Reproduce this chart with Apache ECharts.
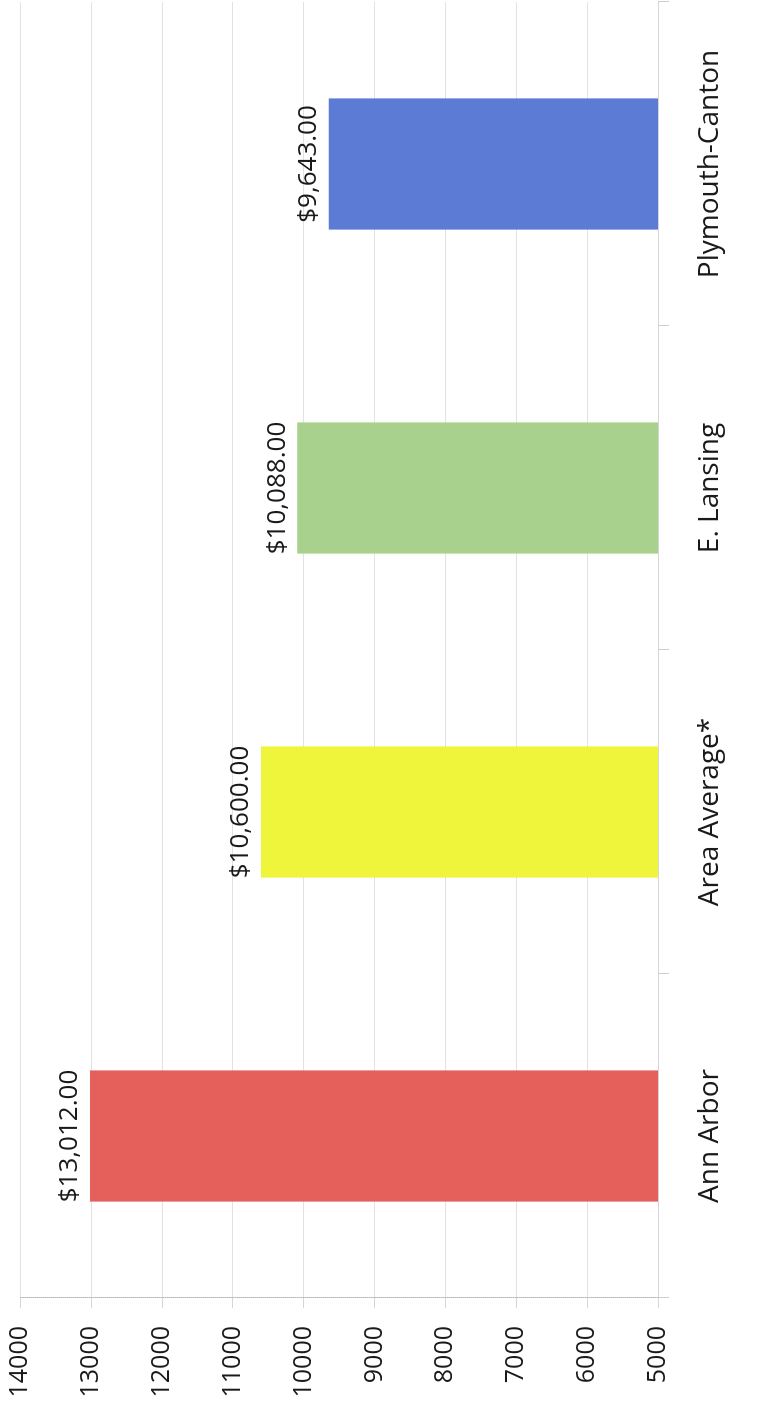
<!DOCTYPE html>
<html>
<head>
<meta charset="utf-8">
<script src="https://cdn.jsdelivr.net/npm/echarts@6/dist/echarts.min.js"></script>
<style>
  html, body { margin:0; padding:0; background:#fff; }
  #wrap { position:absolute; left:0; top:0; width:774px; height:1410px; overflow:hidden; background:#fff; }
  #chart { position:absolute; left:0; top:0; width:1410px; height:774px;
           transform-origin:0 0; transform:translate(0px,1410px) rotate(-90deg); }
</style>
</head>
<body>
<div id="wrap"><div id="chart"></div></div>
<script>
const categories = ['Ann Arbor', 'Area Average*', 'E. Lansing', 'Plymouth-Canton'];
const tuitionValues = [13012, 10600, 10088, 9643];
const barColors = ['#e5605b', '#eef53a', '#a9d18e', '#5b7bd5'];
const axisMin = 5000;
const axisMax = 14000;
const axisStep = 1000;

const FONT = '"Open Sans", "Liberation Sans", sans-serif';
const chart = echarts.init(document.getElementById('chart'), null, { renderer: 'canvas' });

function money(v) {
  return '$' + Number(v).toLocaleString('en-US', { minimumFractionDigits: 2, maximumFractionDigits: 2 });
}

chart.setOption({
  animation: false,
  backgroundColor: '#ffffff',
  grid: { left: 112, right: 2, top: 20, bottom: 116, containLabel: false },
  xAxis: {
    type: 'category',
    data: categories,
    boundaryGap: true,
    axisLine: { show: true, lineStyle: { color: '#d6d6d6', width: 1 } },
    axisTick: { show: true, alignWithLabel: false, length: 11, lineStyle: { color: '#cfcfcf' } },
    axisLabel: { color: '#1a1a1a', fontSize: 28, fontFamily: FONT, margin: 38, interval: 0 },
    splitLine: { show: false }
  },
  yAxis: {
    type: 'value',
    min: axisMin,
    max: axisMax,
    interval: axisStep,
    axisLine: { show: true, lineStyle: { color: '#b5b5b5', type: 'dotted', width: 1 } },
    axisTick: { show: true, length: 10, lineStyle: { color: '#d6d6d6' } },
    axisLabel: { color: '#1a1a1a', fontSize: 25, fontFamily: FONT, margin: 28,
                 formatter: v => String(v) },
    splitLine: { show: true, lineStyle: { color: '#e2e2e2', width: 1 } }
  },
  series: [{
    type: 'bar',
    data: tuitionValues.map((v, i) => ({ value: v, itemStyle: { color: barColors[i] } })),
    barWidth: '40.5%',
    label: {
      show: true,
      position: 'top',
      distance: 7,
      color: '#1a1a1a',
      fontSize: 26,
      fontFamily: FONT,
      formatter: p => money(p.value)
    }
  }]
});
</script>
</body>
</html>
